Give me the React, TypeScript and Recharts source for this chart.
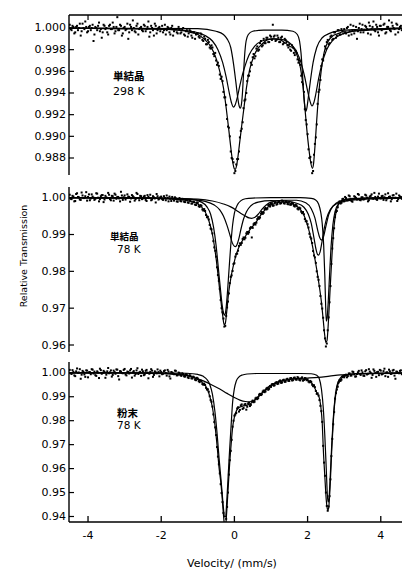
import React from 'react';
import { ComposedChart, Line, Scatter, XAxis, YAxis } from 'recharts';

const FONT = "'DejaVu Sans', sans-serif";
const CJK = "'Noto Sans CJK JP', sans-serif";

// channel grids of the two halves of each spectrum (mm/s)
const VEL_START_A = -4.5;
const VEL_START_B = -4.475;
const VEL_STEP = 0.05;
const X_DOMAIN: [number, number] = [-4.52, 4.58];
const X_TICKS = [-4, -2, 0, 2, 4];

const P1_TICKS = [1.0, 0.998, 0.996, 0.994, 0.992, 0.99, 0.988];
const P2_TICKS = [1.0, 0.99, 0.98, 0.97, 0.96];
const P3_TICKS = [1.0, 0.99, 0.98, 0.97, 0.96, 0.95, 0.94];

const P1_DOMAIN: [number, number] = [0.98643, 1.0012];
const P2_DOMAIN: [number, number] = [0.9581, 1.0029];
const P3_DOMAIN: [number, number] = [0.9377, 1.0045];

// panel 1: single crystal, 298 K
const P1_DATA_A = [
  1.0003, 0.9998, 1.0001, 0.9996, 1.0002, 1.0000, 0.9993, 1.0004, 0.9999, 1.0001,
  0.9997, 1.0002, 1.0000, 0.9988, 1.0001, 0.9998, 1.0005, 0.9999, 0.9996, 1.0002,
  1.0000, 0.9994, 1.0003, 0.9999, 1.0001, 0.9997, 1.0010, 0.9998, 1.0002, 0.9995,
  1.0001, 0.9999, 0.9990, 1.0003, 0.9998, 1.0000, 0.9996, 1.0004, 0.9999, 1.0001,
  0.9997, 1.0002, 0.9999, 1.0006, 0.9996, 1.0000, 0.9993, 1.0002, 0.9998, 1.0001,
  0.9999, 0.9996, 1.0003, 0.9998, 1.0000, 0.9994, 1.0002, 0.9997, 0.9999, 0.9995,
  0.9999, 0.9996, 1.0000, 0.9993, 0.9998, 0.9995, 0.9997, 0.9991, 0.9996, 0.9994,
  0.9995, 0.9991, 0.9994, 0.9988, 0.9990, 0.9985, 0.9987, 0.9981, 0.9982, 0.9974,
  0.9970, 0.9968, 0.9957, 0.9955, 0.9941, 0.9936, 0.9916, 0.9908, 0.9886, 0.9879,
  0.9866, 0.9874, 0.9879, 0.9899, 0.9907, 0.9926, 0.9934, 0.9951, 0.9956, 0.9968,
  0.9973, 0.9972, 0.9981, 0.9979, 0.9986, 0.9983, 0.9990, 0.9986, 0.9991, 0.9987,
  0.9992, 1.0003, 0.9993, 0.9989, 0.9991, 0.9987, 0.9992, 0.9986, 0.9989, 0.9984,
  0.9985, 0.9979, 0.9982, 0.9975, 0.9977, 0.9968, 0.9966, 0.9950, 0.9941, 0.9915,
  0.9902, 0.9880, 0.9876, 0.9868, 0.9893, 0.9911, 0.9941, 0.9952, 0.9971, 0.9975,
  0.9981, 0.9989, 0.9986, 0.9993, 0.9990, 0.9996, 0.9993, 0.9998, 0.9994, 0.9997,
  0.9999, 0.9995, 1.0001, 0.9997, 0.9994, 1.0002, 0.9998, 0.9990, 1.0000, 0.9996,
  1.0003, 0.9998, 1.0001, 0.9995, 1.0002, 0.9999, 1.0006, 0.9997, 1.0001, 0.9993,
  1.0002, 0.9999, 1.0004, 0.9996, 1.0001, 0.9998, 1.0005, 1.0000, 0.9994, 1.0003,
  0.9999, 1.0002,
];

const P1_DATA_B = [
  0.9999, 1.0002, 0.9995, 1.0001, 0.9998, 1.0004, 0.9997, 1.0000, 1.0006, 0.9996,
  1.0001, 0.9998, 1.0003, 0.9994, 1.0000, 1.0002, 0.9997, 0.9991, 1.0003, 0.9999,
  0.9996, 1.0002, 0.9999, 1.0005, 0.9995, 1.0001, 0.9998, 1.0003, 0.9993, 1.0000,
  0.9998, 1.0004, 0.9996, 1.0001, 1.0007, 0.9997, 1.0002, 0.9994, 1.0000, 0.9998,
  1.0003, 0.9997, 1.0001, 0.9992, 1.0002, 0.9998, 1.0004, 0.9995, 1.0000, 0.9997,
  1.0002, 0.9998, 0.9994, 1.0001, 0.9996, 1.0000, 0.9993, 0.9999, 0.9996, 1.0001,
  0.9995, 0.9999, 0.9994, 0.9997, 0.9992, 0.9998, 0.9993, 0.9996, 0.9990, 0.9995,
  0.9992, 0.9995, 0.9989, 0.9992, 0.9985, 0.9989, 0.9982, 0.9984, 0.9976, 0.9977,
  0.9966, 0.9965, 0.9953, 0.9951, 0.9936, 0.9929, 0.9909, 0.9900, 0.9880, 0.9876,
  0.9868, 0.9879, 0.9886, 0.9905, 0.9913, 0.9933, 0.9940, 0.9956, 0.9960, 0.9966,
  0.9976, 0.9974, 0.9983, 0.9980, 0.9988, 0.9984, 0.9986, 0.9991, 0.9987, 0.9993,
  0.9989, 0.9992, 0.9988, 0.9993, 0.9987, 0.9991, 0.9985, 0.9990, 0.9987, 0.9982,
  0.9980, 0.9984, 0.9977, 0.9979, 0.9971, 0.9970, 0.9956, 0.9948, 0.9925, 0.9911,
  0.9888, 0.9881, 0.9866, 0.9883, 0.9899, 0.9930, 0.9943, 0.9965, 0.9970, 0.9983,
  0.9987, 0.9985, 0.9992, 0.9989, 0.9996, 0.9991, 0.9998, 0.9994, 0.9999, 0.9995,
  0.9996, 1.0000, 0.9993, 1.0003, 0.9998, 0.9995, 1.0001, 0.9997, 1.0004, 0.9999,
  0.9996, 1.0002, 0.9999, 1.0005, 0.9994, 1.0001, 0.9998, 1.0003, 0.9996, 1.0002,
  0.9998, 1.0003, 0.9995, 1.0001, 1.0007, 0.9997, 1.0002, 0.9999, 1.0004, 0.9996,
  1.0001, 0.9998,
];

const P1_TOTAL = [
  [-4.52, 0.99998], [-3.0, 0.99995], [-2.0, 0.9999], [-1.5, 0.9998], [-1.2, 0.9996],
  [-1.0, 0.9994], [-0.8, 0.9989], [-0.65, 0.9983], [-0.5, 0.9972], [-0.4, 0.996],
  [-0.3, 0.9945], [-0.22, 0.9925], [-0.15, 0.9905], [-0.1, 0.989], [-0.05, 0.9877],
  [0.0, 0.987], [0.02, 0.98695], [0.06, 0.9873], [0.1, 0.9882], [0.15, 0.9896],
  [0.2, 0.991], [0.26, 0.9926], [0.33, 0.9945], [0.42, 0.9962], [0.52, 0.9973],
  [0.62, 0.998], [0.75, 0.9985], [0.9, 0.9989], [1.07, 0.999], [1.25, 0.9989],
  [1.4, 0.9986], [1.52, 0.9983], [1.62, 0.9981], [1.72, 0.9974], [1.8, 0.9964],
  [1.87, 0.9948], [1.93, 0.9925], [1.98, 0.9906], [2.03, 0.989], [2.08, 0.9877],
  [2.13, 0.98705], [2.16, 0.9874], [2.2, 0.989], [2.25, 0.9915], [2.3, 0.9938],
  [2.37, 0.996], [2.45, 0.9977], [2.55, 0.9987], [2.7, 0.9993], [2.85, 0.9995],
  [3.0, 0.9997], [3.7, 0.9998], [4.58, 0.99995],
];

const P1_NARROW = [
  [-4.52, 1.0], [-1.0, 0.99995], [-0.5, 0.9997], [-0.3, 0.9994], [-0.2, 0.999],
  [-0.1, 0.9982], [-0.02, 0.9966], [0.04, 0.995], [0.09, 0.9936], [0.13, 0.9928],
  [0.16, 0.9926], [0.19, 0.9929], [0.22, 0.994], [0.25, 0.9958], [0.28, 0.9975],
  [0.32, 0.9988], [0.38, 0.9994], [0.5, 0.9997], [0.8, 0.9998], [1.3, 0.9998],
  [1.6, 0.9997], [1.72, 0.9994], [1.78, 0.9988], [1.82, 0.9977], [1.86, 0.9958],
  [1.9, 0.9936], [1.93, 0.9926], [1.95, 0.9923], [1.98, 0.9926], [2.02, 0.9936],
  [2.08, 0.9952], [2.15, 0.9968], [2.25, 0.9982], [2.4, 0.9991], [2.6, 0.9995],
  [3.0, 0.9998], [4.58, 1.0],
];

const P1_BROAD = [
  [-4.52, 0.99998], [-2.0, 0.9999], [-1.2, 0.9997], [-0.8, 0.9993], [-0.6, 0.9988],
  [-0.45, 0.998], [-0.32, 0.9968], [-0.22, 0.9954], [-0.14, 0.994], [-0.08, 0.9931],
  [-0.03, 0.9927], [0.02, 0.9929], [0.08, 0.9936], [0.15, 0.9947], [0.22, 0.9957],
  [0.3, 0.9966], [0.4, 0.9975], [0.55, 0.9983], [0.75, 0.9988], [1.05, 0.999],
  [1.35, 0.9989], [1.55, 0.9985], [1.7, 0.9978], [1.82, 0.9968], [1.92, 0.9955],
  [2.0, 0.9942], [2.07, 0.9932], [2.12, 0.9928], [2.17, 0.9931], [2.23, 0.994],
  [2.3, 0.9953], [2.4, 0.9968], [2.52, 0.998], [2.7, 0.9989], [3.0, 0.9995],
  [3.5, 0.9998], [4.58, 0.99998],
];

// panel 2: single crystal, 78 K
const P2_DATA_A = [
  1.0008, 0.9996, 1.0003, 0.9991, 1.0012, 1.0001, 0.9994, 1.0006, 0.9999, 1.0015,
  1.0002, 0.9993, 1.0009, 1.0000, 0.9997, 1.0011, 0.9990, 1.0004, 1.0007, 0.9995,
  1.0001, 1.0013, 0.9996, 1.0005, 0.9992, 1.0008, 1.0002, 0.9998, 1.0016, 0.9994,
  1.0006, 0.9999, 1.0003, 0.9989, 1.0007, 1.0001, 0.9996, 1.0010, 0.9993, 1.0004,
  0.9998, 1.0005, 0.9991, 1.0002, 1.0008, 0.9995, 1.0001, 0.9987, 1.0004, 0.9997,
  1.0003, 0.9994, 0.9999, 1.0006, 0.9990, 0.9997, 1.0002, 0.9992, 0.9998, 0.9989,
  0.9999, 0.9990, 0.9996, 0.9988, 0.9993, 0.9986, 0.9992, 0.9984, 0.9988, 0.9980,
  0.9986, 0.9975, 0.9978, 0.9965, 0.9964, 0.9947, 0.9941, 0.9916, 0.9903, 0.9865,
  0.9840, 0.9790, 0.9752, 0.9700, 0.9672, 0.9652, 0.9702, 0.9740, 0.9785, 0.9801,
  0.9822, 0.9847, 0.9856, 0.9876, 0.9877, 0.9892, 0.9891, 0.9907, 0.9906, 0.9920,
  0.9918, 0.9931, 0.9932, 0.9947, 0.9946, 0.9961, 0.9959, 0.9972, 0.9970, 0.9981,
  0.9983, 0.9978, 0.9987, 0.9981, 0.9990, 0.9984, 0.9992, 0.9985, 0.9990, 0.9983,
  0.9989, 0.9981, 0.9985, 0.9976, 0.9979, 0.9968, 0.9971, 0.9958, 0.9955, 0.9936,
  0.9928, 0.9902, 0.9889, 0.9855, 0.9838, 0.9800, 0.9777, 0.9733, 0.9699, 0.9640,
  0.9596, 0.9640, 0.9716, 0.9820, 0.9890, 0.9947, 0.9964, 0.9987, 0.9984, 0.9996,
  0.9990, 0.9999, 0.9993, 1.0004, 0.9991, 0.9997, 1.0002, 0.9995, 1.0008, 0.9993,
  1.0001, 0.9996, 1.0006, 0.9990, 1.0003, 1.0009, 0.9997, 1.0002, 0.9994, 1.0011,
  0.9998, 1.0005, 1.0001, 0.9993, 1.0012, 1.0003, 0.9996, 1.0007, 1.0000, 0.9991,
  1.0006, 1.0002,
];

const P2_DATA_B = [
  0.9997, 1.0005, 0.9990, 1.0010, 1.0002, 0.9995, 1.0014, 0.9999, 1.0004, 0.9992,
  1.0009, 0.9998, 1.0003, 0.9994, 1.0012, 1.0000, 0.9996, 1.0007, 0.9988, 1.0005,
  0.9999, 1.0008, 0.9993, 1.0004, 1.0011, 0.9997, 1.0002, 0.9990, 1.0006, 1.0001,
  0.9995, 1.0009, 1.0002, 0.9998, 1.0004, 0.9992, 1.0013, 0.9999, 1.0005, 0.9996,
  1.0003, 0.9994, 1.0007, 0.9999, 0.9993, 1.0004, 0.9998, 1.0010, 0.9995, 1.0001,
  0.9996, 1.0004, 0.9993, 0.9999, 1.0003, 0.9991, 0.9997, 1.0001, 0.9990, 0.9995,
  0.9991, 0.9997, 0.9989, 0.9994, 0.9987, 0.9993, 0.9984, 0.9989, 0.9981, 0.9987,
  0.9977, 0.9980, 0.9968, 0.9969, 0.9953, 0.9948, 0.9926, 0.9914, 0.9882, 0.9856,
  0.9811, 0.9774, 0.9722, 0.9689, 0.9650, 0.9679, 0.9718, 0.9768, 0.9789, 0.9820,
  0.9840, 0.9848, 0.9869, 0.9872, 0.9888, 0.9887, 0.9903, 0.9902, 0.9917, 0.9892,
  0.9928, 0.9927, 0.9942, 0.9943, 0.9957, 0.9956, 0.9969, 0.9968, 0.9979, 0.9976,
  0.9985, 0.9979, 0.9988, 0.9983, 0.9991, 0.9985, 0.9991, 0.9984, 0.9990, 0.9982,
  0.9981, 0.9986, 0.9978, 0.9981, 0.9970, 0.9973, 0.9962, 0.9961, 0.9942, 0.9936,
  0.9919, 0.9893, 0.9877, 0.9843, 0.9823, 0.9785, 0.9760, 0.9712, 0.9674, 0.9618,
  0.9604, 0.9675, 0.9760, 0.9862, 0.9917, 0.9961, 0.9974, 0.9990, 0.9986, 0.9997,
  1.0002, 0.9993, 1.0006, 0.9997, 0.9989, 1.0004, 0.9999, 1.0010, 0.9994, 1.0001,
  0.9995, 1.0008, 1.0000, 0.9993, 1.0005, 0.9998, 1.0013, 0.9996, 1.0003, 0.9999,
  1.0004, 0.9994, 1.0009, 0.9998, 1.0002, 0.9990, 1.0006, 0.9999, 1.0011, 0.9996,
  1.0003, 0.9997,
];

const P2_TOTAL = [
  [-4.52, 1.0], [-3.0, 1.0], [-2.0, 0.9998], [-1.5, 0.9995], [-1.2, 0.999],
  [-1.0, 0.9983], [-0.9, 0.9975], [-0.8, 0.9962], [-0.7, 0.9938], [-0.6, 0.99],
  [-0.5, 0.9835], [-0.43, 0.9775], [-0.37, 0.972], [-0.32, 0.968], [-0.28, 0.9655],
  [-0.25, 0.9658], [-0.21, 0.969], [-0.16, 0.974], [-0.1, 0.978], [-0.04, 0.981],
  [0.02, 0.9835], [0.1, 0.986], [0.2, 0.988], [0.3, 0.9895], [0.4, 0.991],
  [0.5, 0.9922], [0.6, 0.9935], [0.7, 0.995], [0.8, 0.9963], [0.9, 0.9973],
  [1.05, 0.9982], [1.2, 0.9987], [1.35, 0.9988], [1.5, 0.9986], [1.65, 0.998],
  [1.8, 0.9968], [1.9, 0.9952], [2.0, 0.9925], [2.1, 0.9885], [2.18, 0.9845],
  [2.25, 0.9805], [2.32, 0.976], [2.38, 0.9715], [2.43, 0.9665], [2.47, 0.9625],
  [2.5, 0.9607], [2.53, 0.9612], [2.57, 0.9665], [2.62, 0.976], [2.67, 0.985],
  [2.72, 0.992], [2.78, 0.9962], [2.85, 0.9983], [2.95, 0.9992], [3.1, 0.9996],
  [3.5, 0.9998], [4.58, 1.0],
];

const P2_MAIN = [
  [-4.52, 1.0], [-2.0, 0.9999], [-1.2, 0.9996], [-0.9, 0.9988], [-0.75, 0.9975],
  [-0.65, 0.9955], [-0.57, 0.992], [-0.5, 0.987], [-0.44, 0.981], [-0.38, 0.975],
  [-0.33, 0.9705], [-0.29, 0.9684], [-0.27, 0.9681], [-0.24, 0.969], [-0.2, 0.973],
  [-0.15, 0.98], [-0.1, 0.987], [-0.05, 0.9925], [0.0, 0.9958], [0.08, 0.998],
  [0.18, 0.9992], [0.3, 0.9997], [0.5, 0.9999], [1.0, 1.0], [1.8, 1.0],
  [2.1, 0.9998], [2.22, 0.9994], [2.3, 0.9983], [2.36, 0.996], [2.4, 0.993],
  [2.44, 0.987], [2.47, 0.979], [2.49, 0.972], [2.51, 0.9665], [2.53, 0.967],
  [2.56, 0.971], [2.6, 0.979], [2.64, 0.9865], [2.69, 0.9925], [2.75, 0.9962],
  [2.85, 0.9984], [3.0, 0.9994], [3.4, 0.9998], [4.58, 1.0],
];

const P2_SITE_B = [
  [-4.52, 0.99995], [-2.0, 0.9998], [-1.2, 0.9995], [-0.8, 0.999], [-0.55, 0.998],
  [-0.4, 0.9967], [-0.3, 0.995], [-0.2, 0.9924], [-0.12, 0.9898], [-0.06, 0.9878],
  [0.0, 0.9868], [0.03, 0.9867], [0.07, 0.9872], [0.12, 0.9888], [0.18, 0.9915],
  [0.25, 0.9942], [0.33, 0.9962], [0.45, 0.9978], [0.65, 0.9988], [1.0, 0.9992],
  [1.4, 0.9991], [1.7, 0.9985], [1.9, 0.9974], [2.02, 0.9955], [2.1, 0.993],
  [2.17, 0.9893], [2.23, 0.986], [2.27, 0.9846], [2.3, 0.9844], [2.34, 0.9852],
  [2.39, 0.9878], [2.45, 0.9914], [2.52, 0.9944], [2.62, 0.9968], [2.8, 0.9984],
  [3.1, 0.9992], [3.6, 0.9996], [4.58, 0.99985],
];

const P2_SITE_C = [
  [-4.52, 1.0], [-2.0, 0.9999], [-1.0, 0.9996], [-0.6, 0.9991], [-0.3, 0.9983],
  [-0.1, 0.9975], [0.05, 0.9966], [0.18, 0.9957], [0.3, 0.995], [0.4, 0.9945],
  [0.47, 0.9944], [0.55, 0.9946], [0.65, 0.9955], [0.75, 0.9968], [0.87, 0.998],
  [1.0, 0.9988], [1.3, 0.9993], [1.7, 0.9993], [1.95, 0.9986], [2.1, 0.997],
  [2.2, 0.9945], [2.28, 0.991], [2.33, 0.9892], [2.38, 0.9885], [2.43, 0.9893],
  [2.5, 0.9922], [2.58, 0.9955], [2.7, 0.9978], [2.9, 0.9991], [3.3, 0.9997],
  [4.58, 1.0],
];

// panel 3: powder, 78 K
const P3_DATA_A = [
  1.0012, 0.9995, 1.0004, 0.9986, 1.0018, 1.0001, 0.9975, 1.0008, 0.9993, 1.0010,
  0.9981, 1.0003, 1.0015, 0.9997, 0.9990, 1.0006, 0.9978, 1.0011, 0.9999, 1.0004,
  0.9992, 1.0020, 1.0002, 0.9984, 1.0009, 0.9996, 1.0013, 0.9972, 1.0005, 0.9998,
  1.0016, 0.9989, 1.0003, 1.0010, 0.9980, 1.0007, 0.9995, 1.0019, 1.0001, 0.9987,
  1.0006, 0.9993, 1.0012, 0.9977, 1.0004, 1.0009, 0.9991, 1.0002, 1.0014, 0.9985,
  1.0003, 0.9996, 1.0010, 0.9988, 1.0005, 0.9976, 1.0001, 0.9994, 1.0008, 0.9990,
  0.9999, 0.9987, 0.9995, 0.9984, 0.9993, 0.9978, 0.9988, 0.9976, 0.9981, 0.9969,
  0.9976, 0.9961, 0.9965, 0.9950, 0.9949, 0.9930, 0.9921, 0.9886, 0.9859, 0.9794,
  0.9740, 0.9650, 0.9580, 0.9498, 0.9415, 0.9352, 0.9440, 0.9575, 0.9674, 0.9775,
  0.9821, 0.9832, 0.9856, 0.9845, 0.9868, 0.9853, 0.9870, 0.9858, 0.9875, 0.9866,
  0.9884, 0.9879, 0.9896, 0.9894, 0.9912, 0.9910, 0.9926, 0.9922, 0.9937, 0.9933,
  0.9941, 0.9953, 0.9948, 0.9961, 0.9955, 0.9968, 0.9959, 0.9971, 0.9963, 0.9975,
  0.9966, 0.9978, 0.9969, 0.9980, 0.9971, 0.9979, 0.9968, 0.9981, 0.9970, 0.9976,
  0.9972, 0.9960, 0.9962, 0.9944, 0.9940, 0.9912, 0.9905, 0.9862, 0.9795, 0.9625,
  0.9500, 0.9424, 0.9485, 0.9652, 0.9785, 0.9892, 0.9930, 0.9960, 0.9966, 0.9984,
  0.9981, 0.9992, 0.9986, 0.9997, 0.9989, 1.0003, 0.9984, 0.9995, 1.0008, 0.9991,
  1.0002, 0.9987, 1.0011, 0.9996, 1.0005, 0.9979, 1.0014, 0.9999, 1.0003, 0.9990,
  1.0009, 0.9995, 1.0017, 1.0001, 0.9983, 1.0006, 0.9997, 1.0012, 0.9975, 1.0004,
  0.9998, 1.0010,
];

const P3_DATA_B = [
  0.9998, 1.0011, 0.9989, 1.0006, 1.0000, 1.0015, 0.9992, 1.0004, 0.9983, 1.0009,
  1.0002, 0.9994, 1.0013, 1.0005, 0.9987, 1.0001, 1.0017, 0.9996, 1.0008, 0.9979,
  1.0006, 0.9998, 1.0010, 0.9991, 1.0003, 1.0014, 0.9986, 1.0007, 0.9999, 1.0012,
  0.9993, 1.0005, 0.9997, 1.0016, 1.0002, 0.9988, 1.0010, 0.9995, 1.0004, 1.0013,
  0.9990, 1.0008, 1.0001, 0.9996, 1.0015, 0.9983, 1.0006, 0.9998, 1.0003, 1.0009,
  0.9994, 1.0007, 0.9999, 1.0012, 0.9985, 1.0003, 0.9997, 1.0009, 0.9989, 1.0001,
  0.9990, 0.9998, 0.9985, 0.9994, 0.9981, 0.9990, 0.9977, 0.9984, 0.9971, 0.9979,
  0.9965, 0.9968, 0.9953, 0.9955, 0.9937, 0.9931, 0.9902, 0.9879, 0.9826, 0.9772,
  0.9690, 0.9618, 0.9535, 0.9460, 0.9365, 0.9390, 0.9500, 0.9635, 0.9720, 0.9800,
  0.9826, 0.9851, 0.9838, 0.9864, 0.9849, 0.9867, 0.9846, 0.9872, 0.9861, 0.9880,
  0.9877, 0.9893, 0.9890, 0.9909, 0.9907, 0.9922, 0.9919, 0.9934, 0.9929, 0.9945,
  0.9952, 0.9946, 0.9958, 0.9953, 0.9965, 0.9958, 0.9969, 0.9962, 0.9973, 0.9966,
  0.9977, 0.9968, 0.9979, 0.9972, 0.9982, 0.9970, 0.9977, 0.9967, 0.9978, 0.9969,
  0.9963, 0.9966, 0.9950, 0.9948, 0.9924, 0.9914, 0.9886, 0.9840, 0.9695, 0.9570,
  0.9444, 0.9442, 0.9555, 0.9724, 0.9836, 0.9915, 0.9942, 0.9969, 0.9971, 0.9986,
  0.9990, 0.9981, 0.9997, 0.9988, 1.0005, 0.9993, 0.9985, 1.0002, 0.9996, 1.0010,
  0.9988, 1.0006, 0.9993, 1.0015, 1.0000, 0.9991, 1.0008, 0.9983, 1.0004, 1.0012,
  0.9993, 1.0007, 0.9986, 1.0002, 1.0013, 0.9995, 1.0009, 0.9988, 1.0005, 0.9999,
  1.0008, 0.9994,
];

const P3_TOTAL = [
  [-4.52, 1.0], [-2.5, 1.0], [-1.5, 0.9995], [-1.2, 0.9985], [-1.0, 0.9972],
  [-0.85, 0.9955], [-0.75, 0.9935], [-0.67, 0.99], [-0.6, 0.9855], [-0.53, 0.978],
  [-0.47, 0.969], [-0.42, 0.9605], [-0.37, 0.954], [-0.33, 0.947], [-0.3, 0.941],
  [-0.27, 0.9365], [-0.24, 0.9362], [-0.21, 0.942], [-0.17, 0.952], [-0.13, 0.962],
  [-0.09, 0.97], [-0.05, 0.977], [0.0, 0.9815], [0.06, 0.9843], [0.15, 0.9857],
  [0.25, 0.9862], [0.35, 0.9865], [0.45, 0.9872], [0.55, 0.9885], [0.65, 0.99],
  [0.75, 0.9915], [0.88, 0.993], [1.0, 0.9945], [1.2, 0.996], [1.45, 0.997],
  [1.7, 0.9975], [1.9, 0.9973], [2.05, 0.9965], [2.15, 0.995], [2.25, 0.9918],
  [2.32, 0.9895], [2.36, 0.986], [2.4, 0.979], [2.43, 0.968], [2.47, 0.957],
  [2.51, 0.947], [2.54, 0.9432], [2.56, 0.9428], [2.58, 0.944], [2.62, 0.954],
  [2.66, 0.968], [2.7, 0.979], [2.75, 0.9886], [2.8, 0.9935], [2.88, 0.9968],
  [3.0, 0.9985], [3.3, 0.9996], [4.58, 1.0],
];

const P3_NARROW = [
  [-4.52, 1.0], [-2.0, 1.0], [-1.3, 0.9998], [-1.0, 0.9993], [-0.85, 0.9985],
  [-0.75, 0.9972], [-0.67, 0.995], [-0.6, 0.991], [-0.53, 0.9835], [-0.47, 0.974],
  [-0.42, 0.9645], [-0.37, 0.956], [-0.33, 0.949], [-0.3, 0.9435], [-0.27, 0.9398],
  [-0.24, 0.94], [-0.21, 0.946], [-0.17, 0.957], [-0.13, 0.968], [-0.09, 0.978],
  [-0.05, 0.9875], [0.0, 0.9935], [0.05, 0.9965], [0.12, 0.9982], [0.22, 0.9991],
  [0.35, 0.9995], [0.6, 0.9997], [1.0, 0.9997], [1.8, 0.9997], [2.1, 0.9996],
  [2.25, 0.999], [2.32, 0.9975], [2.38, 0.993], [2.43, 0.985], [2.47, 0.974],
  [2.51, 0.96], [2.54, 0.949], [2.56, 0.946], [2.58, 0.9468], [2.62, 0.957],
  [2.66, 0.97], [2.7, 0.9805], [2.75, 0.9895], [2.8, 0.9945], [2.88, 0.9975],
  [3.0, 0.999], [3.3, 0.9996], [4.58, 0.9997],
];

const P3_BROAD = [
  [-4.52, 1.0], [-2.5, 0.9998], [-1.8, 0.9995], [-1.4, 0.999], [-1.1, 0.998],
  [-0.85, 0.9966], [-0.6, 0.9948], [-0.4, 0.9932], [-0.2, 0.9914], [0.0, 0.9897],
  [0.15, 0.9886], [0.3, 0.988], [0.42, 0.9879], [0.52, 0.9882], [0.62, 0.9895],
  [0.75, 0.9915], [0.9, 0.9938], [1.05, 0.9953], [1.25, 0.9965], [1.5, 0.9973],
  [1.75, 0.9976], [2.0, 0.9978], [2.3, 0.9981], [2.6, 0.9986], [2.9, 0.9991],
  [3.3, 0.9996], [4.58, 1.0],
];

const toPoints = (vals: number[], start: number) =>
  vals.map((t, i) => ({ v: Math.round((start + i * VEL_STEP) * 1000) / 1000, t }));
const toCurve = (pairs: number[][]) => pairs.map(([v, t]) => ({ v, t }));

const Dot = (p: any) =>
  p.cx == null || p.cy == null ? <g /> : <rect x={p.cx - 1} y={p.cy - 1} width={2} height={2} fill="#000" />;

const makeLeftTick = (digits: number) => (p: any) => (
  <g>
    <line x1={p.x} y1={p.y} x2={p.x + 5} y2={p.y} stroke="#000" strokeWidth={1.2} />
    <text x={p.x - 3} y={p.y} textAnchor="end" dominantBaseline="central" fontSize={11} fontFamily={FONT} fill="#000">
      {Number(p.payload.value).toFixed(digits)}
    </text>
  </g>
);

const RightTick = (p: any) => (
  <line x1={p.x - 4} y1={p.y} x2={p.x} y2={p.y} stroke="#000" strokeWidth={1.2} />
);

const TopTick = (p: any) => (
  <line x1={p.x} y1={p.y} x2={p.x} y2={p.y + 5} stroke="#000" strokeWidth={1.2} />
);

const BottomTick = (p: any) => (
  <g>
    <line x1={p.x} y1={p.y - 6} x2={p.x} y2={p.y} stroke="#000" strokeWidth={1.3} />
    <text x={p.x} y={p.y + 13} textAnchor="middle" dominantBaseline="central" fontSize={11} fontFamily={FONT} fill="#000">
      {p.payload.value}
    </text>
  </g>
);

type PanelProps = {
  top: number;
  height: number;
  marginTop: number;
  marginBottom: number;
  xHeight: number;
  domain: [number, number];
  ticks: number[];
  digits: number;
  dataA: number[];
  dataB: number[];
  curves: number[][][];
  xMode: 'top' | 'bottom' | 'none';
};

function Panel(props: PanelProps) {
  const { top, height, marginTop, marginBottom, xHeight, domain, ticks, digits, dataA, dataB, curves, xMode } = props;
  const points = toPoints(dataA, VEL_START_A).concat(toPoints(dataB, VEL_START_B));
  return (
    <div style={{ position: 'absolute', left: 0, top, width: 402, height }}>
      <ComposedChart width={402} height={height} margin={{ top: marginTop, right: 0, bottom: marginBottom, left: 0 }}>
        <XAxis
          type="number"
          dataKey="v"
          domain={X_DOMAIN}
          allowDataOverflow
          ticks={X_TICKS}
          interval={0}
          orientation={xMode === 'top' ? 'top' : 'bottom'}
          height={xHeight}
          hide={xMode === 'none'}
          tickSize={0}
          tickMargin={0}
          tickLine={false}
          axisLine={{ stroke: '#000', strokeWidth: 1.3 }}
          tick={xMode === 'top' ? TopTick : BottomTick}
        />
        <YAxis
          type="number"
          domain={domain}
          allowDataOverflow
          ticks={ticks}
          interval={0}
          width={69}
          tickSize={0}
          tickMargin={0}
          tickLine={false}
          axisLine={{ stroke: '#000', strokeWidth: 1.4 }}
          tick={makeLeftTick(digits)}
        />
        <YAxis
          yAxisId="r"
          orientation="right"
          type="number"
          domain={domain}
          allowDataOverflow
          ticks={ticks}
          interval={0}
          width={0}
          tickSize={0}
          tickMargin={0}
          tickLine={false}
          axisLine={false}
          tick={RightTick}
        />
        <Scatter data={points} dataKey="t" shape={Dot} isAnimationActive={false} />
        {curves.map((c, i) => (
          <Line
            key={i}
            data={toCurve(c)}
            dataKey="t"
            type="monotone"
            dot={false}
            activeDot={false}
            stroke="#000"
            strokeWidth={1.2}
            isAnimationActive={false}
          />
        ))}
      </ComposedChart>
    </div>
  );
}

export default function App() {
  return (
    <div style={{ position: 'absolute', left: 0, top: 0, width: 402, height: 570, background: '#fff', overflow: 'hidden' }}>
      <Panel top={0} height={185} marginTop={14} marginBottom={10} xHeight={1} domain={P1_DOMAIN} ticks={P1_TICKS} digits={3}
        dataA={P1_DATA_A} dataB={P1_DATA_B} curves={[P1_TOTAL, P1_NARROW, P1_BROAD]} xMode="top" />
      <Panel top={180} height={180} marginTop={7} marginBottom={8} xHeight={0} domain={P2_DOMAIN} ticks={P2_TICKS} digits={2}
        dataA={P2_DATA_A} dataB={P2_DATA_B} curves={[P2_TOTAL, P2_MAIN, P2_SITE_B, P2_SITE_C]} xMode="none" />
      <Panel top={355} height={200} marginTop={7} marginBottom={3} xHeight={30} domain={P3_DOMAIN} ticks={P3_TICKS} digits={2}
        dataA={P3_DATA_A} dataB={P3_DATA_B} curves={[P3_TOTAL, P3_NARROW, P3_BROAD]} xMode="bottom" />
      <svg width={402} height={570} style={{ position: 'absolute', left: 0, top: 0, pointerEvents: 'none' }}>
        <text transform="translate(23,256) rotate(-90)" textAnchor="middle" dominantBaseline="central" fontSize={9.5} fontFamily={FONT} fill="#000">
          Relative Transmission
        </text>
        <text x={232} y={563} textAnchor="middle" dominantBaseline="central" fontSize={11} fontFamily={FONT} fill="#000">
          Velocity/ (mm/s)
        </text>
        <text x={113} y={75} dominantBaseline="central" fontSize={10.5} fontWeight={700} fontFamily={CJK} fill="#000">単結晶</text>
        <text x={113} y={91} dominantBaseline="central" fontSize={11} fontFamily={FONT} fill="#000">298 K</text>
        <text x={110} y={236} dominantBaseline="central" fontSize={9.5} fontWeight={700} fontFamily={CJK} fill="#000">単結晶</text>
        <text x={117} y={249} dominantBaseline="central" fontSize={10.5} fontFamily={FONT} fill="#000">78 K</text>
        <text x={117} y={412} dominantBaseline="central" fontSize={10.5} fontWeight={700} fontFamily={CJK} fill="#000">粉末</text>
        <text x={117} y={425} dominantBaseline="central" fontSize={10.5} fontFamily={FONT} fill="#000">78 K</text>
      </svg>
    </div>
  );
}
